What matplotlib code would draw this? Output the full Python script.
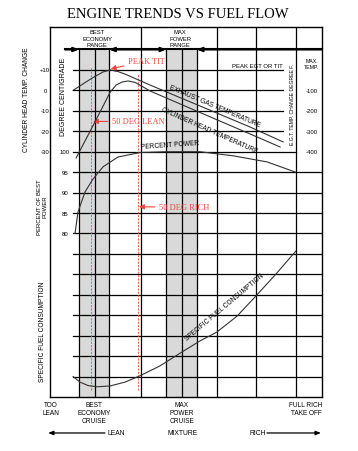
import matplotlib
matplotlib.use("Agg")
import matplotlib.pyplot as plt
from matplotlib.patches import Rectangle

SANS = "Liberation Sans"
SERIF = "Liberation Serif"
RED = "#f0453c"
CURVE = "#333333"
GREY = "#d9d9d9"

# mixture scale: 0 = too lean ... 100 = full rich
vlines = [10.7, 16.5, 21.7, 33.3, 42.8, 48.5, 53.9, 61.4, 75.7, 90.3]
best_economy = (10.7, 21.7)
max_power = (42.8, 53.9)
lean_50 = 14.9
rich_50 = 32.4

temp_ticks = ["+10", "0", "-10", "-20", "-30"]
power_ticks = ["100", "95", "90", "85", "80"]
egt_f_ticks = ["-100", "-200", "-300", "-400"]

# exhaust gas temperature change, deg C
egt_x = [8.5, 10.7, 13.2, 16.5, 19.5, 22.1, 25.0, 27.9, 36.8, 55.1, 73.5, 85.7]
egt_t = [0.0, 1.9, 4.1, 6.8, 9.0, 10.0, 9.2, 7.8, 2.6, -7.6, -17.9, -25.2]

# cylinder head temperature change, deg C
cht_x = [9.6, 16.5, 19.9, 22.1, 24.3, 26.5, 28.7, 31.3, 36.8, 55.1, 73.5, 84.6]
cht_t = [-33.1, -15.5, -6.7, -0.9, 2.6, 4.1, 4.6, 3.9, -0.3, -10.8, -21.3, -27.7]

# percent of best power
pwr_x = [9.2, 10.3, 12.9, 15.8, 19.5, 25.0, 33.1, 43.0, 55.1, 67.3, 79.8, 90.3]
pwr_p = [80.0, 85.3, 90.2, 93.3, 96.3, 98.7, 99.8, 100.0, 100.0, 99.0, 97.5, 95.0]

# specific fuel consumption (relative, grid rows)
sfc_x = [8.5, 11.0, 14.0, 17.3, 22.1, 27.6, 33.1, 40.4, 48.5, 55.1, 61.4, 68.8, 75.7, 83.1, 90.4]
sfc_v = [1.0, 0.73, 0.56, 0.50, 0.54, 0.73, 1.04, 1.52, 2.20, 2.74, 3.18, 3.96, 4.94, 6.02, 7.14]


def temp_row(t):
    return 15 + t / 10.0


def power_row(p):
    return 12 + (p - 100) / 5.0


fig = plt.figure(figsize=(3.58, 4.52), dpi=100)
ax = fig.add_axes([50 / 358, 1 - 398 / 452, 272 / 358, 370 / 452])
ax.set_xlim(0, 100)
ax.set_ylim(0, 18.1)
ax.set_xticks([])
ax.set_yticks([])
for s in ax.spines.values():
    s.set_linewidth(1.0)

# shaded ranges
for a, b in [best_economy, max_power]:
    ax.add_patch(Rectangle((a, 0), b - a, 17, facecolor=GREY, edgecolor="none", zorder=0))

# grid
for r in range(1, 17):
    end = 85.7 if r >= 13 else (90.3 if r == 12 else 100)
    ax.plot([8.5, end], [r, r], color="k", lw=0.9, zorder=1)
band_lines = [10.7, 16.5, 21.7, 42.8, 48.5, 53.9]
for x in vlines:
    top = 17 if x in band_lines else 18.1
    ax.plot([x, x], [0, top], color="k", lw=0.9, zorder=1)

# header line with arrows
ax.plot([5.5, 100], [17, 17], color="k", lw=1.5, zorder=2)
arrow = dict(arrowstyle="-|>,head_length=0.5,head_width=0.2", lw=1.5, color="k",
             shrinkA=0, shrinkB=0, mutation_scale=6)
ax.annotate("", xy=(10.7, 17), xytext=(5.5, 17), arrowprops=arrow)
ax.annotate("", xy=(42.8, 17), xytext=(21.7, 17),
            arrowprops=dict(arrow, arrowstyle="<|-|>,head_length=0.5,head_width=0.2"))
ax.annotate("", xy=(53.9, 17), xytext=(100, 17), arrowprops=arrow)

# red reference lines
ax.plot([lean_50, lean_50], [0.35, 16.15], color=RED, lw=0.6, ls=(0, (2.5, 1.5)), zorder=3)
ax.plot([rich_50, rich_50], [0.35, 15.8], color=RED, lw=0.6, ls=(0, (2.5, 1.5)), zorder=3)

# curves
ax.plot(egt_x, [temp_row(t) for t in egt_t], color=CURVE, lw=0.8, zorder=4)
ax.plot(cht_x, [temp_row(t) for t in cht_t], color=CURVE, lw=0.8, zorder=4)
ax.plot(pwr_x, [power_row(p) for p in pwr_p], color=CURVE, lw=0.8, zorder=4)
ax.plot(sfc_x, sfc_v, color=CURVE, lw=0.8, zorder=4)

# curve labels
ax.text(60.7, 14.24, "EXHAUST GAS TEMPERATURE", rotation=-23, ha="center", va="center",
        fontsize=4.8, family=SANS)
ax.text(58.4, 13.05, "CYLINDER HEAD TEMPERATURE", rotation=-24, ha="center", va="center",
        fontsize=4.8, family=SANS)
ax.text(44.1, 12.33, "PERCENT POWER", rotation=4, ha="center", va="center",
        fontsize=4.8, family=SANS)
ax.text(64.3, 4.4, "SPECIFIC FUEL CONSUMPTION", rotation=40, ha="center", va="center",
        fontsize=4.8, family=SANS)

# left scales
for i, lab in enumerate(temp_ticks):
    ax.text(-1.8, 16 - i, lab, ha="center", va="center", fontsize=4.3, family=SANS, clip_on=False)
for i, lab in enumerate(power_ticks):
    ax.text(5.5, 12 - i, lab, ha="center", va="center", fontsize=4.3, family=SANS)
ax.text(-8.8, 14.58, "CYLINDER HEAD TEMP. CHANGE", rotation=90, ha="center", va="center",
        fontsize=4.8, family=SANS)
ax.text(4.8, 14.73, "DEGREE CENTIGRADE", rotation=90, ha="center", va="center",
        fontsize=5.0, family=SANS)
ax.text(-2.9, 9.34, "PERCENT OF BEST\nPOWER", rotation=90, ha="center", va="center",
        fontsize=4.3, family=SANS, linespacing=1.1)
ax.text(-2.6, 3.23, "SPECIFIC FUEL CONSUMPTION", rotation=90, ha="center", va="center",
        fontsize=4.8, family=SANS)

# right scale
for i, lab in enumerate(egt_f_ticks):
    ax.text(96.3, 15 - i, lab, ha="center", va="center", fontsize=4.3, family=SANS)
ax.text(96.3, 16.44, "MAX.", ha="center", va="center", fontsize=3.8, family=SANS)
ax.text(96.3, 16.19, "TEMP.", ha="center", va="center", fontsize=3.8, family=SANS)
ax.text(85.7, 16.24, "PEAK EGT OR TIT", ha="right", va="center", fontsize=4.3, family=SANS)
ax.text(89.0, 14.36, "E.G.T. TEMP. CHANGE DEGREE F.", rotation=90, ha="center", va="center",
        fontsize=3.7, family=SANS)


def stacked(x, rows, lines, size):
    for r, line in zip(rows, lines):
        ax.text(x, r, line, ha="center", va="center", fontsize=size, family=SANS, clip_on=False)


# header labels
stacked(17.3, [17.9, 17.56, 17.22], ["BEST", "ECONOMY", "RANGE"], 4.2)
stacked(47.8, [17.9, 17.56, 17.22], ["MAX", "POWER", "RANGE"], 4.2)

# bottom labels
stacked(0.3, [-0.39, -0.78], ["TOO", "LEAN"], 4.7)
stacked(16.3, [-0.39, -0.78, -1.17], ["BEST", "ECONOMY", "CRUISE"], 4.7)
stacked(48.4, [-0.39, -0.78, -1.17], ["MAX", "POWER", "CRUISE"], 4.7)
stacked(94.1, [-0.39, -0.78], ["FULL RICH", "TAKE OFF"], 4.7)

low = dict(arrowstyle="-|>,head_length=0.5,head_width=0.2", lw=0.9, color="k",
           shrinkA=0, shrinkB=0, mutation_scale=6)
ax.annotate("", xy=(-0.7, -1.76), xytext=(20.2, -1.76), arrowprops=low, annotation_clip=False)
ax.annotate("", xy=(99.6, -1.76), xytext=(79.8, -1.76), arrowprops=low, annotation_clip=False)
ax.text(21.3, -1.76, "LEAN", ha="left", va="center", fontsize=4.9, family=SANS)
ax.text(48.8, -1.76, "MIXTURE", ha="center", va="center", fontsize=4.9, family=SANS)
ax.text(79.2, -1.76, "RICH", ha="right", va="center", fontsize=4.9, family=SANS)

# red notes
red_arrow = dict(arrowstyle="-|>,head_length=0.5,head_width=0.25", lw=0.8, color=RED,
                 shrinkA=1, shrinkB=0, mutation_scale=6)
ax.annotate("PEAK TIT", xy=(22.3, 16.05), xytext=(28.7, 16.44), ha="left", va="center",
            color=RED, fontsize=6, family=SERIF, arrowprops=red_arrow)
ax.annotate("50 DEG LEAN", xy=(15.8, 13.48), xytext=(22.8, 13.48), ha="left", va="center",
            color=RED, fontsize=6, family=SERIF, arrowprops=red_arrow)
ax.annotate("50 DEG RICH", xy=(32.7, 9.3), xytext=(40.1, 9.3), ha="left", va="center",
            color=RED, fontsize=6, family=SERIF, arrowprops=red_arrow)

fig.text(178 / 358, 1 - 14 / 452, "ENGINE TRENDS VS FUEL FLOW", ha="center", va="center",
         fontsize=10.5, family=SERIF)

fig.savefig("out.png", dpi=100)
